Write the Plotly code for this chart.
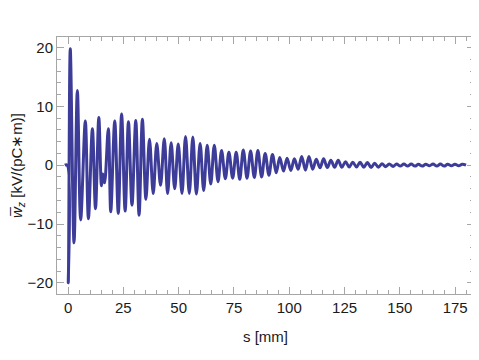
import plotly.graph_objects as go

# wake function extrema (s in mm, w in kV/(pC*m))
s_pts = [-1.5, -0.4, 0.1, 1.0, 2.7, 4.2, 5.7, 7.8, 9.2, 11.0, 12.4, 13.9,
         15.1, 15.7, 16.5, 18.2, 19.3, 21.1, 22.7, 24.2, 25.8, 27.3, 28.9,
         30.6, 32.1, 33.6, 35.2, 36.8, 38.5, 40.1, 41.8, 43.5, 45.0, 46.6,
         48.2, 49.8, 51.5, 53.1, 54.8, 56.4, 58.0, 59.7, 61.3, 62.9, 64.5,
         66.1, 67.8, 69.4, 71.1, 72.7, 74.4, 76.0, 77.6, 79.2, 80.9, 82.5,
         84.2, 85.8, 87.5, 89.1, 90.8, 92.4, 94.1, 95.7, 97.4, 99.0, 100.7,
         102.3, 104.0, 105.6, 107.3, 108.9, 110.6, 112.2, 113.9, 115.5, 117.2,
         118.8, 120.5, 122.1, 123.8, 125.4, 127.1, 128.7, 130.4, 132.0, 133.7,
         135.3, 137.0, 138.6, 140.3, 141.9, 143.6, 145.2, 146.9, 148.5, 150.2,
         151.8, 153.5, 155.1, 156.8, 158.4, 160.1, 161.7, 163.4, 165.0, 166.7,
         168.3, 170.0, 171.6, 173.3, 174.9, 176.6, 178.2, 179.9]
w_pts = [0.0, 0.0, -20.0, 19.8, -13.2, 12.7, -9.3, 7.5, -9.1, 6.2, -7.4, 8.1,
         -3.5, -1.5, -3.0, 6.2, -7.9, 7.5, -8.2, 8.7, -7.8, 7.4, -6.8,
         7.6, -8.5, 7.8, -5.8, 4.4, -4.8, 3.7, -3.4, 4.5, -4.8, 3.8,
         -4.0, 3.6, -4.8, 4.9, -4.8, 4.8, -4.9, 3.7, -4.3, 3.4, -3.2,
         3.4, -2.8, 2.5, -2.3, 2.2, -2.2, 2.2, -2.4, 2.6, -2.2, 2.4,
         -2.1, 2.5, -2.0, 2.0, -1.7, 1.8, -1.3, 1.3, -1.0, 1.2, -0.9,
         1.1, -0.7, 1.5, -0.85, 1.5, -0.7, 1.0, -0.45, 1.1, -0.4,
         0.85, -0.35, 0.85, -0.35, 0.6, -0.3, 0.5, -0.3, 0.5, -0.35,
         0.45, -0.4, 0.35, -0.35, 0.25, -0.25, 0.2, -0.2, 0.2, -0.15,
         0.2, -0.15, 0.2, -0.15, 0.15, -0.15, 0.15, -0.1, 0.2, -0.15,
         0.2, -0.15, 0.15, -0.1, 0.15, -0.1, 0.15, 0.0]

x_ticks = [0, 25, 50, 75, 100, 125, 150, 175]
y_ticks = [-20, -10, 0, 10, 20]

frame = "#a6a6a6"
font = dict(family="Liberation Sans, Arial, sans-serif", size=15, color="#1a1a1a")

fig = go.Figure()
fig.add_trace(go.Scatter(x=s_pts, y=w_pts, mode="lines",
                         line=dict(color="#3d3d99", width=3, shape="spline", smoothing=1),
                         hoverinfo="skip", showlegend=False))

fig.update_xaxes(range=[-5, 183.5], tickvals=x_ticks, showgrid=False, zeroline=False,
                 showline=True, linecolor=frame, linewidth=1, mirror="ticks",
                 ticks="inside", ticklen=7, tickcolor=frame, automargin=False,
                 minor=dict(dtick=5, ticks="inside", ticklen=4, tickcolor=frame),
                 tickfont=font,
                 title=dict(text="s [mm]", font=font, standoff=16))
fig.update_yaxes(range=[-21.9, 21.8], tickvals=y_ticks, showgrid=False, zeroline=False,
                 showline=True, linecolor=frame, linewidth=1, mirror="ticks",
                 ticks="inside", ticklen=7, tickcolor=frame, automargin=False,
                 minor=dict(dtick=2, ticks="inside", ticklen=4, tickcolor=frame),
                 tickfont=font,
                 title=dict(text="<i>w\u0305</i><sub><i>z</i></sub> [kV/(pC\u2217m)]",
                            font=font, standoff=4))

# page body adds an 8px margin, so the figure is a bit smaller than the window
fig.update_layout(width=471, height=352, paper_bgcolor="white", plot_bgcolor="white",
                  margin=dict(l=49, r=5, t=29, b=66))

fig.write_html("out.html")
